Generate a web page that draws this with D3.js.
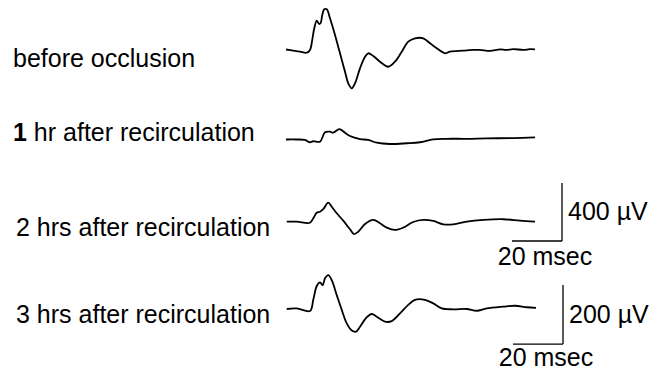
<!DOCTYPE html>
<html>
<head>
<meta charset="utf-8">
<script src="https://cdn.jsdelivr.net/npm/d3@7"></script>
<style>
  body { margin: 0; background: #fff; }
  text { font-family: "Liberation Sans", Arial, sans-serif; fill: #000; }
</style>
</head>
<body>
<div id="chart-area"></div>
<script>
// trace labels (first word, second part)
const labelLead = ["", "1", "2", "3"];
const labelRest = ["before occlusion", " hr after recirculation", " hrs after recirculation", " hrs after recirculation"];

// [msec, µV]
const traceBefore = [
  [0, 0], [2.9, -8], [5.6, -15], [8.3, -22], [9.6, -3], [10.5, 66], [11.3, 146], [12.3, 199],
  [13.2, 176], [13.9, 185], [14.5, 238], [15.3, 277], [16.3, 277], [17.6, 215], [19.6, 100],
  [21.6, -26], [23.6, -153], [24.9, -233], [26.3, -268], [27.6, -233], [29.6, -130], [31.6, -50],
  [32.9, -26], [34.9, -45], [37.6, -84], [40.9, -119], [43.6, -84], [46.3, -15], [48.9, 54],
  [51.6, 77], [54.9, 77], [57.6, 43], [60.3, 8], [63.6, -26], [65.6, -15], [70.9, -8], [74.5, -3],
  [77.6, -3], [81.6, -10], [85.6, 1], [88, -3], [90.9, 3], [94.9, -3], [97.5, 2], [99.6, 1]
];
const trace1hr = [
  [0, 0], [4.3, 0], [7.6, -3], [9.6, -19], [10.9, -12], [13.6, -15], [15.6, 50], [17.6, 54],
  [18.9, 47], [21.3, 72], [23.6, 47], [25.6, 24], [29.6, 3], [32.9, -3], [36.3, -22], [41.6, -31],
  [48.3, -26], [53.6, -19], [58.9, 1], [64.3, 5], [72.3, 5], [80.3, 8], [90.9, 10], [99.6, 15]
];
const trace2hr = [
  [0.3, 0], [4.3, 0], [9.6, -7], [10.9, 23], [12.3, 62], [13.6, 69], [14.9, 86], [16.9, 131],
  [18.3, 103], [20.3, 58], [22.9, 7], [25.6, -52], [27.2, -85], [28.9, -69], [31.6, -16],
  [34.9, 12], [37.6, -11], [40.3, -41], [43.6, -57], [46.9, -41], [50.9, -2], [54.9, 12],
  [58.9, 5], [62.9, -18], [66.9, -18], [72.3, 0], [78.9, 12], [86.9, 17], [93.6, 7], [99.6, 0]
];
const trace3hr = [
  [0.3, 0], [4.3, 2], [9.6, -7], [10.9, 31], [12.3, 78], [13.6, 90], [14.7, 81], [15.6, 104],
  [16.9, 115], [18.3, 98], [20.3, 47], [22.3, -3], [24.3, -49], [26.3, -73], [28, -77],
  [29.6, -60], [32.3, -28], [34.3, -17], [36.3, -26], [39.6, -43], [42.3, -41], [45.6, -15],
  [48.9, 14], [51.6, 31], [55.6, 31], [58.9, 19], [62.3, 2], [66.9, -1], [72.3, 0], [76.3, -6],
  [80.3, 2], [86.9, 8], [91.6, 11], [96.3, 6], [100, 4]
];
const traces = [traceBefore, trace1hr, trace2hr, trace3hr];

// amplitude range shown per trace (µV either side of baseline)
const traceRange = [400, 400, 400, 200];

// calibration bars
const barVolts = [400, 200];
const barMsec = [20, 20];

const WIDTH = 663, HEIGHT = 376;
const BASELINES = [49.5, 139.5, 221.7, 309];
const HALF = [58, 58, 58, 59];
const LABEL_Y = [67, 141, 236, 323];
const LABEL_X = [13, 13, 16, 16];
const FONT = "25px";

const svg = d3.select("#chart-area")
  .append("svg")
    .attr("width", WIDTH)
    .attr("height", HEIGHT);

// shared time scale
const x = d3.scaleLinear()
  .domain([0, 100])
  .range([286, 536]);

// one amplitude scale per trace
const yScales = traces.map((t, i) => d3.scaleLinear()
  .domain([-traceRange[i], traceRange[i]])
  .range([BASELINES[i] + HALF[i], BASELINES[i] - HALF[i]]));

traces.forEach((data, i) => {
  const line = d3.line()
    .x(d => x(d[0]))
    .y(d => yScales[i](d[1]))
    .curve(d3.curveCatmullRom.alpha(0.5));

  svg.append("path")
    .datum(data)
    .attr("d", line)
    .attr("fill", "none")
    .attr("stroke", "#000")
    .attr("stroke-width", 1.8)
    .attr("stroke-linejoin", "round");

  const label = svg.append("text")
    .attr("x", LABEL_X[i])
    .attr("y", LABEL_Y[i])
    .attr("font-size", FONT);
  // the "1" of the second label is printed bold
  label.append("tspan")
    .attr("font-weight", i === 1 ? "bold" : "normal")
    .text(labelLead[i]);
  label.append("tspan")
    .text(labelRest[i]);
});

// calibration bars sit under trace 3 and trace 4
const bars = [
  { trace: 2, bottom: -133, tEnd: 110.4, textY: 265 },
  { trace: 3, bottom: -119, tEnd: 110.8, textY: 366 }
];

bars.forEach((b, i) => {
  const y = yScales[b.trace];
  const g = svg.append("g")
    .attr("fill", "none")
    .attr("stroke", "#000")
    .attr("stroke-width", 1.3);

  g.append("line")
    .attr("x1", x(b.tEnd)).attr("x2", x(b.tEnd))
    .attr("y1", y(b.bottom)).attr("y2", y(b.bottom + barVolts[i]));

  g.append("line")
    .attr("x1", x(b.tEnd - barMsec[i])).attr("x2", x(b.tEnd))
    .attr("y1", y(b.bottom)).attr("y2", y(b.bottom));

  svg.append("text")
    .attr("x", x(b.tEnd) + 6)
    .attr("y", y(b.bottom + barVolts[i] / 2) + 8)
    .attr("font-size", FONT)
    .text(`${barVolts[i]} µV`);

  svg.append("text")
    .attr("x", x(b.tEnd - barMsec[i] / 2) + 8)
    .attr("y", b.textY)
    .attr("font-size", FONT)
    .attr("text-anchor", "middle")
    .text(`${barMsec[i]} msec`);
});
</script>
</body>
</html>
